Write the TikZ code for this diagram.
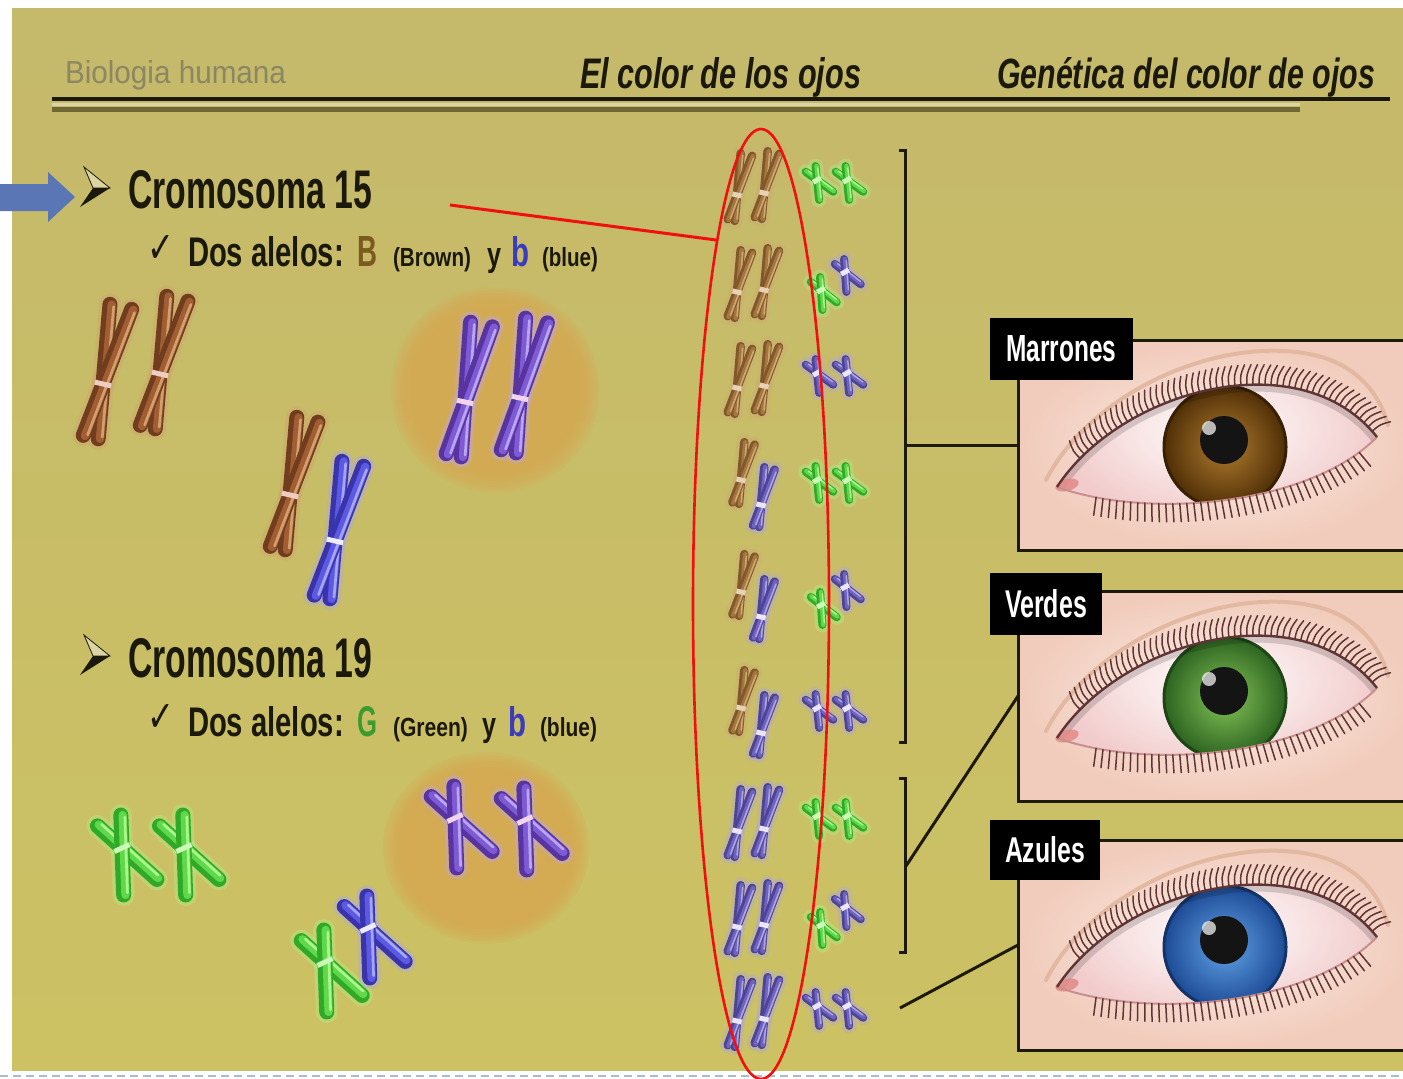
\documentclass[tikz,border=0pt]{standalone}
\usepackage{fontspec}
\usepackage{graphicx}
\setmainfont{Liberation Sans}
\newfontfamily\symfont{DejaVu Sans}
\usetikzlibrary{shapes.geometric,decorations.markings}

% page and lettering
\definecolor{bgT}{HTML}{C5B96B}
\definecolor{bgB}{HTML}{CCC263}
\definecolor{bgL}{HTML}{DCD4A2}
\definecolor{ink}{HTML}{1B190C}
\definecolor{greyink}{HTML}{8C8662}
\definecolor{ruleB}{HTML}{6E6934}
\definecolor{dashc}{HTML}{A9BCCF}
\definecolor{arrowc}{HTML}{5A76B4}
\definecolor{redc}{HTML}{F01010}
\definecolor{frame}{HTML}{1E1A0A}
\definecolor{alB}{HTML}{7B5A1E}
\definecolor{alb}{HTML}{3B3BBE}
\definecolor{alG}{HTML}{3C9B2E}
\definecolor{orc}{HTML}{D8A852}
% chromosome palettes: D dark, M middle, L light, C centromere
\definecolor{brD}{RGB}{112,62,30}\definecolor{brM}{RGB}{162,94,50}\definecolor{brL}{RGB}{210,160,110}\definecolor{brC}{RGB}{238,205,195}
\definecolor{rbD}{RGB}{128,88,44}\definecolor{rbM}{RGB}{165,118,62}\definecolor{rbL}{RGB}{205,170,115}\definecolor{rbC}{RGB}{230,210,180}
\definecolor{puD}{RGB}{88,52,160}\definecolor{puM}{RGB}{126,90,212}\definecolor{puL}{RGB}{185,165,242}\definecolor{puC}{RGB}{242,212,236}
\definecolor{blD}{RGB}{58,52,172}\definecolor{blM}{RGB}{92,90,226}\definecolor{blL}{RGB}{165,165,246}\definecolor{blC}{RGB}{236,236,252}
\definecolor{grD}{RGB}{48,168,40}\definecolor{grM}{RGB}{96,216,76}\definecolor{grL}{RGB}{172,246,140}\definecolor{grC}{RGB}{205,252,185}
\definecolor{rvD}{RGB}{78,68,150}\definecolor{rvM}{RGB}{110,100,192}\definecolor{rvL}{RGB}{175,165,225}\definecolor{rvC}{RGB}{235,230,250}
% eyes
\definecolor{skinL}{HTML}{FBEDE6}
\definecolor{skinD}{HTML}{F1CBBB}
\definecolor{foldc}{HTML}{E3B8A0}
\definecolor{sclc}{HTML}{F2CCCC}
\definecolor{lashc}{HTML}{5E3434}
\definecolor{lidc}{HTML}{C98F8F}
\definecolor{ductc}{HTML}{E38A86}
\definecolor{brownD}{HTML}{4F2E06}\definecolor{brownL}{HTML}{B07C2E}
\definecolor{greenD}{HTML}{2B6220}\definecolor{greenL}{HTML}{84C456}
\definecolor{blueD}{HTML}{1C4A94}\definecolor{blueL}{HTML}{62A2E6}

\newcommand\fitbox[3]{\resizebox{#1pt}{#2pt}{#3}}

\tikzset{
  txt/.style={anchor=base west, inner sep=0pt, outer sep=0pt},
  eyebox/.style={draw=frame, line width=3pt, minimum width=400pt, minimum height=210pt,
    inner sep=0pt, outer sep=0pt, inner color=skinL, outer color=skinD},
  tag/.style={fill=black, anchor=north west, inner sep=0pt, outer sep=0pt, text=white},
  link/.style={draw=frame, line width=3pt},
  lash/.style={draw=lashc, line width=1.5pt, line cap=round},
  fold/.style={draw=foldc, line width=4pt, line cap=round},
  uplid/.style={draw=lashc, line width=2.4pt},
  lowlid/.style={draw=lidc, line width=2pt},
  selring/.style={draw=redc, line width=2.6pt, ellipse, inner sep=0pt,
    minimum width=136pt, minimum height=950pt},
}

% one chromosome: centromere (#1,#2), tilt #3, half spread #4,
% arm lengths #5 (up) and #6 (down), rod width #7, palette #8
\newcommand\chromo[8]{%
  \begin{scope}[shift={(#1,#2)}]
    \foreach \sg in {-1,1}{
      \draw[line cap=round, line width={#7+7}, color=#8L, opacity=.35]
        ({#5*sin(#3+\sg*#4)},{-#5*cos(#3+\sg*#4)}) --
        ({-#6*sin(#3+\sg*#4)},{#6*cos(#3+\sg*#4)});
    }
    \foreach \sg in {-1,1}{
      \begin{scope}[rotate={-(#3+\sg*#4)}]
        \draw[line cap=round, line width=#7, color=#8D] (0,-#5) -- (0,#6);
        \draw[line cap=round, line width={0.55*#7}, color=#8M]
          ({0.12*#7},-#5) -- ({0.12*#7},#6);
        \draw[line cap=round, line width={0.18*#7}, color=#8L]
          ({0.26*#7},{-#5+2}) -- ({0.26*#7},{#6-2});
      \end{scope}
    }
    \fill[#8C, rotate=-#3] ({-0.55*#7},-2.5) rectangle ({0.55*#7},2.5);
  \end{scope}}

% chromosome 15 pairs in the column
\newcommand\lsame[2]{\chromo{737}{#1+10}{13}{8}{42}{26}{8.5}{#2}\chromo{764}{#1+8}{13}{8}{42}{26}{8.5}{#2}}
\newcommand\lmix[1]{\chromo{741}{#1-5}{13}{8}{38}{24}{8.5}{rb}\chromo{761}{#1+20}{13}{8}{38}{22}{8.5}{rv}}
% chromosome 19 pairs in the column
\newcommand\rsame[2]{\chromo{817}{#1-5}{-30}{24}{14}{20}{8}{#2}\chromo{847}{#1-5}{-30}{24}{14}{20}{8}{#2}}
\newcommand\rmix[1]{\chromo{821}{#1+8}{-28}{24}{13}{20}{8}{gr}\chromo{845}{#1-10}{-28}{24}{13}{20}{8}{rv}}

% soft orange cell
\newcommand\cell[4]{%
  \foreach \k in {0,...,6}{
    \fill[orc, opacity=.22] (#1,#2) ellipse [x radius={#3+8-3*\k}, y radius={#4+8-3*\k}];
  }}

% arrowhead bullet
\newcommand\pointer[1]{%
  \begin{scope}[shift={(0,#1)}]
    \filldraw[fill=bgL, draw=ink, line width=.8pt] (110,188) -- (84,167) -- (93,188) -- cycle;
    \fill[ink] (110,188) -- (93,188) -- (80,207) -- cycle;
  \end{scope}}

% eye drawing inside a frame; #1 vertical offset, #2/#3 iris dark/light
\newcommand\eyeart[3]{%
  \begin{scope}[shift={(0,#1)}]
    \draw[fold] (1046,480) .. controls (1095,385) and (1235,330) .. (1325,358)
      .. controls (1360,370) and (1380,395) .. (1388,425);
    \shade[inner color=white, outer color=sclc]
      (1057,487) .. controls (1120,390) and (1300,340) .. (1377,437)
      .. controls (1310,505) and (1150,520) .. (1057,487) -- cycle;
    \begin{scope}
      \clip (1057,487) .. controls (1120,390) and (1300,340) .. (1377,437)
        .. controls (1310,505) and (1150,520) .. (1057,487) -- cycle;
      \shade[inner color=#3, outer color=#2] (1225,447) circle (62);
      \draw[#2!70!black, line width=3pt] (1225,447) circle (61);
      \fill[black!92] (1224,440) circle (24);
      \fill[white, opacity=.7] (1209,428) circle (7);
      \draw[black, opacity=.15, line width=14pt]
        (1057,487) .. controls (1120,390) and (1300,340) .. (1377,437);
    \end{scope}
    \fill[ductc, opacity=.85] (1067,485) ellipse [x radius=12, y radius=6, rotate=15];
    \draw[lowlid, postaction={decorate}, decoration={markings,
        mark=between positions 0.12 and 0.93 step 7pt with {\draw[lash] (0pt,0pt) .. controls (0pt,-9pt) .. (1pt,-18pt);}}]
      (1057,487) .. controls (1150,520) and (1310,505) .. (1377,437);
    \draw[uplid, postaction={decorate}, decoration={markings,
        mark=between positions 0.1 and 0.98 step 6pt with {\draw[lash] (0pt,0pt) .. controls (0pt,10pt) .. (5pt,20pt);}}]
      (1057,487) .. controls (1120,390) and (1300,340) .. (1377,437);
  \end{scope}}

\begin{document}
\begin{tikzpicture}[x=1pt,y=-1pt]
\useasboundingbox (0,0) rectangle (1403,1079);
\fill[white] (0,0) rectangle (1403,1079);
\clip (0,0) rectangle (1403,1079);

% slide background and the dashed page edge
\shade[top color=bgT, bottom color=bgB] (12,8) rectangle (1403,1070);
\draw[dashc, line width=1.6pt, dash pattern=on 8pt off 5pt] (0,1076) -- (1403,1076);

% header
\node[txt, text=greyink] (hdA) at (65,83) {\fitbox{221}{23}{Biologia humana}};
\node[txt, text=ink] (hdB) at (580,88) {\fitbox{281}{31}{\bfseries\itshape El color de los ojos}};
\node[txt, text=ink] (hdC) at (997,88) {\fitbox{378}{31}{\bfseries\itshape Genética del color de ojos}};
\draw[bgL, line width=3pt] (52,104) -- (1300,104);
\draw[ink, line width=4pt] (52,99) -- (1390,99);
\draw[ruleB, line width=5pt] (52,109) -- (1300,109);

% marker arrow
\fill[arrowc] (-2,184) -- (48,184) -- (48,172) -- (75,197) -- (48,222) -- (48,211) -- (-2,211) -- cycle;

% chromosome 15 text
\pointer{0}
\node[txt, text=ink] (c15) at (128,208) {\fitbox{244}{38}{\bfseries Cromosoma 15}};
\node[txt, text=ink] (chk1) at (147,262) {\fitbox{27}{27}{\symfont ✓}};
\node[txt, text=ink] (al1) at (188,266) {\fitbox{156}{30}{\bfseries Dos alelos:}};
\node[txt, text=alB] (al1B) at (357,266) {\fitbox{20}{30}{\bfseries B}};
\node[txt, text=ink] (al1Bn) at (393,266) {\fitbox{78}{19}{\bfseries (Brown)}};
\node[txt, text=ink] (al1y) at (487,266) {\fitbox{14}{18}{\bfseries y}};
\node[txt, text=alb] (al1b) at (511,266) {\fitbox{18}{30}{\bfseries b}};
\node[txt, text=ink] (al1bn) at (542,266) {\fitbox{56}{19}{\bfseries (blue)}};

% chromosome 19 text
\pointer{468}
\node[txt, text=ink] (c19) at (128,677) {\fitbox{244}{39}{\bfseries Cromosoma 19}};
\node[txt, text=ink] (chk2) at (147,731) {\fitbox{27}{27}{\symfont ✓}};
\node[txt, text=ink] (al2) at (188,736) {\fitbox{156}{30}{\bfseries Dos alelos:}};
\node[txt, text=alG] (al2G) at (357,736) {\fitbox{20}{30}{\bfseries G}};
\node[txt, text=ink] (al2Gn) at (393,736) {\fitbox{75}{19}{\bfseries (Green)}};
\node[txt, text=ink] (al2y) at (482,736) {\fitbox{14}{18}{\bfseries y}};
\node[txt, text=alb] (al2b) at (508,736) {\fitbox{18}{30}{\bfseries b}};
\node[txt, text=ink] (al2bn) at (540,736) {\fitbox{57}{19}{\bfseries (blue)}};

% cells
\cell{495}{390}{96}{95}
\cell{486}{848}{95}{88}

% chromosome 15 figures
\chromo{103}{384}{13}{8}{80}{55}{15}{br}
\chromo{160}{374}{13}{8}{78}{55}{15}{br}
\chromo{290}{495}{13}{8}{78}{55}{15}{br}
\chromo{335}{541}{13}{8}{80}{58}{15}{bl}
\chromo{465}{402}{12}{8}{80}{55}{15}{pu}
\chromo{520}{398}{12}{8}{80}{55}{15}{pu}

% chromosome 19 figures
\chromo{122}{848}{-25}{23}{33}{47}{15}{gr}
\chromo{184}{848}{-25}{23}{33}{47}{15}{gr}
\chromo{455}{818}{-25}{23}{32}{50}{15}{pu}
\chromo{525}{820}{-25}{23}{32}{50}{15}{pu}
\chromo{325}{962}{-25}{23}{32}{50}{15}{gr}
\chromo{368}{928}{-25}{23}{32}{50}{15}{bl}

% combinations column
\lsame{185}{rb}  \rsame{185}{gr}
\lsame{282}{rb}  \rmix{282}
\lsame{378}{rb}  \rsame{378}{rv}
\lmix{485}       \rsame{485}{gr}
\lmix{597}       \rmix{597}
\lmix{713}       \rsame{713}{rv}
\lsame{821}{rv}  \rsame{821}{gr}
\lsame{917}{rv}  \rmix{917}
\lsame{1011}{rv} \rsame{1011}{rv}

% selection ring and pointer line
\node[selring] (sel) at (761,604) {};
\coordinate (redstart) at (450,205);
\draw[redc, line width=3pt] (redstart) -- (sel.97);

% eye frames
\node[eyebox] (eyeM) at (1218,445) {};
\node[eyebox] (eyeV) at (1218,696) {};
\node[eyebox] (eyeA) at (1218,945) {};
\eyeart{0}{brownD}{brownL}
\eyeart{251}{greenD}{greenL}
\eyeart{500}{blueD}{blueL}

% labels
\node[tag, minimum width=143pt, minimum height=62pt] (tagM) at (990,318) {\fitbox{110}{26}{\bfseries Marrones}};
\node[tag, minimum width=112pt, minimum height=62pt] (tagV) at (990,573) {\fitbox{82}{28}{\bfseries Verdes}};
\node[tag, minimum width=110pt, minimum height=60pt] (tagA) at (990,820) {\fitbox{80}{26}{\bfseries Azules}};

% brackets and links
\coordinate (b1tt) at (899,150);
\coordinate (b1top) at (905,150);
\coordinate (b1mid) at (905,445);
\coordinate (b1bot) at (905,742);
\coordinate (b1bt) at (899,742);
\draw[link] (b1tt) -- (b1top) -- (b1bot) -- (b1bt);
\draw[link] (b1mid) -- (eyeM.west);
\coordinate (b2tt) at (899,778);
\coordinate (b2top) at (905,778);
\coordinate (b2mid) at (906,866);
\coordinate (b2bot) at (905,952);
\coordinate (b2bt) at (899,952);
\draw[link] (b2tt) -- (b2top) -- (b2bot) -- (b2bt);
\draw[link] (b2mid) -- (eyeV.west);
\coordinate (b3) at (900,1008);
\draw[link] (b3) -- (eyeA.west);
\end{tikzpicture}
\end{document}
